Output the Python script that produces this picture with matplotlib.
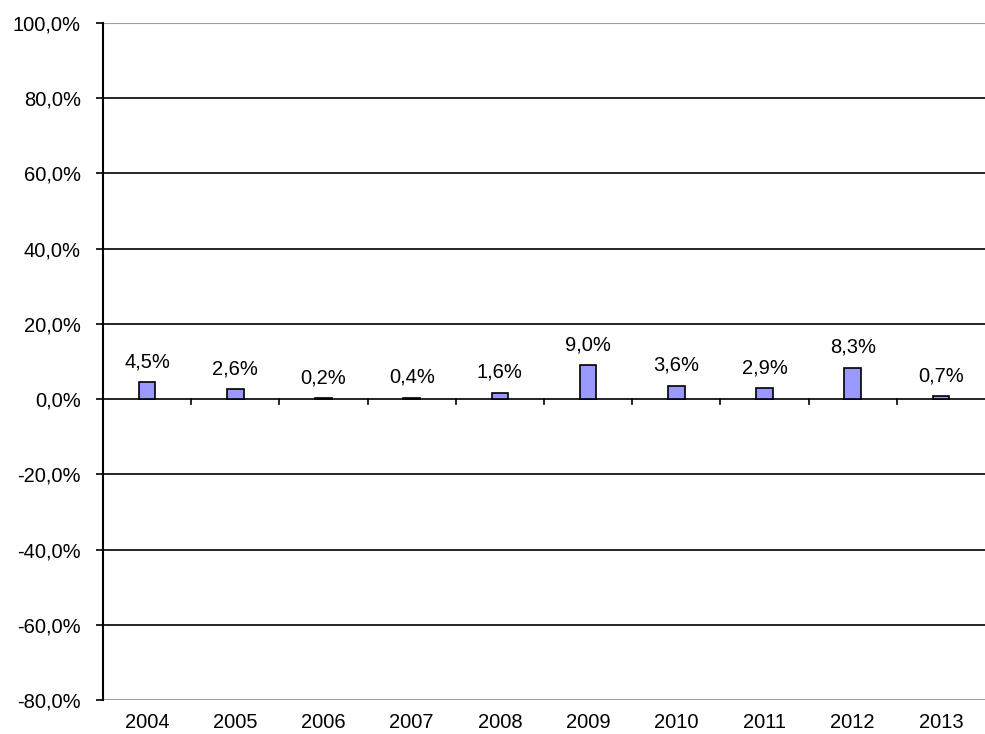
import matplotlib
matplotlib.use("Agg")
import matplotlib.pyplot as plt
import numpy as np

years = ["2004", "2005", "2006", "2007", "2008", "2009", "2010", "2011", "2012", "2013"]
values = [4.5, 2.6, 0.2, 0.4, 1.6, 9.0, 3.6, 2.9, 8.3, 0.7]
yticks = [-80, -60, -40, -20, 0, 20, 40, 60, 80, 100]

plt.rcParams['font.family'] = ['Liberation Sans', 'DejaVu Sans']

fig = plt.figure(figsize=(9.85, 7.34), dpi=100)
ax = fig.add_axes([103/985, 34/734, 1 - 103/985, (700-23)/734])

x = np.arange(len(years))
ax.set_xlim(-0.5, len(years) - 0.5)
ax.set_ylim(-80, 100)

for t in yticks:
    if t in (100, -80):
        ax.axhline(t, color='#a0a0a0', lw=1.5, zorder=1)
    elif t != 0:
        ax.axhline(t, color='black', lw=1.2, zorder=1)
ax.axhline(0, color='black', lw=1.2, zorder=3)

bars = ax.bar(x, values, width=0.19, color='#9999FF', edgecolor='black', linewidth=1.2, zorder=4)

for xi, v in zip(x, values):
    ax.annotate(f"{v:.1f}%".replace('.', ','), (xi, v), xytext=(0, 8), textcoords='offset points',
                ha='center', va='bottom', fontsize=14.5, color='black')

for s in ['top', 'right', 'bottom']:
    ax.spines[s].set_visible(False)
ax.spines['left'].set_color('black')
ax.spines['left'].set_linewidth(1.5)

ax.set_yticks(yticks)
ax.set_yticklabels([f"{t:.1f}%".replace('.', ',') for t in yticks], fontsize=14.5)
ax.tick_params(axis='y', length=5, width=1.2, pad=11)

ax.set_xticks(x)
ax.set_xticklabels(years, fontsize=14.5)
ax.tick_params(axis='x', length=0, pad=9)

# category boundary ticks on the zero line
for b in np.arange(0.5, len(years) - 0.5, 1.0):
    ax.plot([b, b], [0, -1.3], color='black', lw=1.2, zorder=3, clip_on=False)

fig.savefig("out.png", dpi=100)
